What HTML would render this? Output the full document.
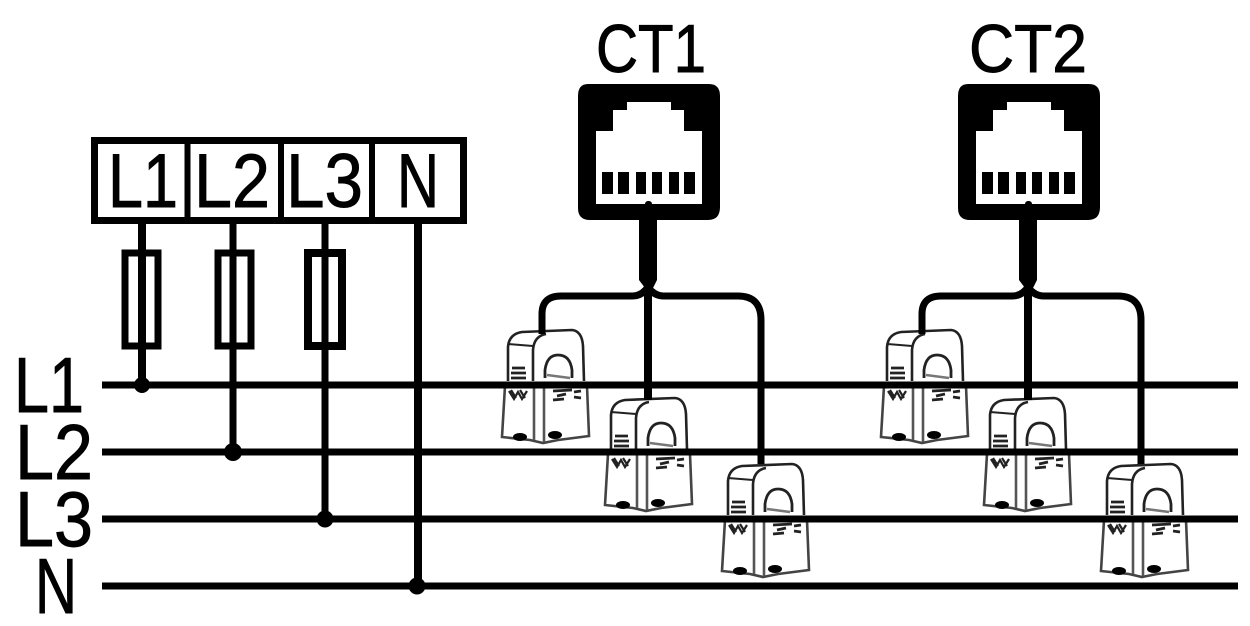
<!DOCTYPE html>
<html>
<head>
<meta charset="utf-8">
<style>
html,body{margin:0;padding:0;background:#fff;width:1250px;height:626px;overflow:hidden}
svg{display:block}
text{font-family:"Liberation Sans",sans-serif;fill:#000;stroke:#000;stroke-width:.9}
</style>
</head>
<body>
<svg width="1250" height="626" viewBox="0 0 1250 626" xmlns="http://www.w3.org/2000/svg">
<defs>
<g id="clamp">
  <path d="M510 382 L509 345 Q509 333 522 332 L572 330 Q582 331 583 345 L584 382 L589 436 L558 440 L543 442 L530 440 L502 436 L505 382 Z" fill="#fff" stroke="none"/>
  <g fill="none" stroke="#222" stroke-width="2.600">
    <path d="M508 381 L508 347 Q509 334 522 332 L572 330 Q582 331 583 346 L584 381"/>
    <path d="M508 344 L533 346" stroke-width="2"/>
    <path d="M533 381 L533 350 Q534 336 546 334"/>
    <path d="M505 386 L502 437 L530 440 L543 443 L558 440 L589 436 L587 386" stroke="#444"/>
    <path d="M534 386 L534 440 M544 386 L544 442" stroke="#555"/>
    <path d="M545 378 L545 370 Q547 355 558 355 Q570 355 572 370 L572 378" stroke-width="2.800"/>
    <path d="M547 375 L570 378" stroke="#777"/>
    <path d="M512 368 L525 368 M511 373 L526 373 M511 378 L526 378" stroke-width="2.800" stroke="#222"/>
    <path d="M509 391 L514 399 L518 392 L522 399 L527 391 M511 390 L516 398 M520 390 L525 398" stroke-width="2.200"/>
    <path d="M553 391 L572 390 M557 396 L566 394 M553 400 L564 399 M574 392 L581 391 M574 397 L581 398" stroke-width="2.800"/>
  </g>
  <ellipse cx="520" cy="437" rx="7" ry="4" fill="#000"/>
  <ellipse cx="555" cy="435" rx="7" ry="4" fill="#000"/>
</g>
<g id="rj">
  <path d="M588 84 H709 Q720 84 720 96 V207 Q720 220 708 220 H590 Q578 220 578 208 V96 Q578 84 588 84 Z" fill="#000"/>
  <path d="M627 102 H671 V110 H684 V131 H702 V204 H596 V131 H613 V110 H627 Z" fill="#fff"/>
  <g fill="#000">
    <rect x="602" y="172" width="11" height="22"/>
    <rect x="618" y="172" width="11" height="22"/>
    <rect x="636" y="172" width="10" height="22"/>
    <rect x="652" y="172" width="10" height="22"/>
    <rect x="669" y="172" width="10" height="22"/>
    <rect x="684" y="172" width="11" height="22"/>
  </g>
  <path d="M639 218 H657 V280 L653 288 L664 296 H641 L645 288 L639 280 Z" fill="#000"/>
  <rect x="645" y="201" width="7" height="20" rx="3" fill="#000"/>
  <path d="M542 334 V314 Q542 296 561 296 H632 Q642 296 648 287 Q654 296 664 296 H738 Q761 296 761 320 V464" fill="none" stroke="#000" stroke-width="7"/>
  <path d="M648 288 V400" fill="none" stroke="#000" stroke-width="8"/>
</g>
</defs>

<rect width="1250" height="626" fill="#fff"/>

<!-- bus lines -->
<g stroke="#000" stroke-width="7" fill="none">
  <path d="M102 385 H1238"/>
  <path d="M102 452 H1238"/>
  <path d="M102 519 H1238"/>
  <path d="M102 586 H1238"/>
</g>

<!-- CT assemblies -->
<use href="#clamp"/>
<use href="#clamp" transform="translate(103 68)"/>
<use href="#clamp" transform="translate(220 134)"/>
<use href="#clamp" transform="translate(379 0)"/>
<use href="#clamp" transform="translate(482 68)"/>
<use href="#clamp" transform="translate(599 134)"/>
<path d="M500 385 H592 M603 452 H695 M720 519 H812 M879 385 H971 M982 452 H1074 M1099 519 H1191" stroke="#000" stroke-width="7"/>
<use href="#rj"/>
<use href="#rj" transform="translate(380 0)"/>

<!-- vertical drops and fuses -->
<g stroke="#000" fill="none">
  <path d="M142 224 V385" stroke-width="8"/>
  <path d="M233 224 V452" stroke-width="7"/>
  <path d="M325 224 V519" stroke-width="7"/>
  <path d="M418 224 V586" stroke-width="8"/>
  <rect x="125" y="253" width="33" height="93" stroke-width="7"/>
  <rect x="218" y="253" width="33" height="93" stroke-width="7"/>
  <rect x="308" y="253" width="34" height="93" stroke-width="8"/>
</g>
<g fill="#000">
  <circle cx="142" cy="385" r="8"/>
  <circle cx="233" cy="452" r="9"/>
  <circle cx="325" cy="519" r="8.5"/>
  <circle cx="417" cy="586" r="8.5"/>
</g>

<!-- terminal block -->
<g stroke="#000" fill="none">
  <rect x="94.500" y="140.500" width="369" height="80" stroke-width="7"/>
  <path d="M187.500 140 V221 M281 140 V221 M372 140 V221" stroke-width="6"/>
</g>

<text x="108" y="207" font-size="76" textLength="70" lengthAdjust="spacingAndGlyphs">L1</text>
<text x="194" y="207" font-size="76" textLength="76" lengthAdjust="spacingAndGlyphs">L2</text>
<text x="286" y="207" font-size="76" textLength="77" lengthAdjust="spacingAndGlyphs">L3</text>
<text x="397" y="207" font-size="76" textLength="42" lengthAdjust="spacingAndGlyphs">N</text>

<text x="14" y="412" font-size="78" textLength="70" lengthAdjust="spacingAndGlyphs">L1</text>
<text x="15" y="479" font-size="78" textLength="78" lengthAdjust="spacingAndGlyphs">L2</text>
<text x="15" y="546" font-size="78" textLength="78" lengthAdjust="spacingAndGlyphs">L3</text>
<text x="35" y="613" font-size="78" textLength="42" lengthAdjust="spacingAndGlyphs">N</text>

<text x="596" y="72" font-size="68" textLength="110" lengthAdjust="spacingAndGlyphs">CT1</text>
<text x="969" y="72" font-size="68" textLength="118" lengthAdjust="spacingAndGlyphs">CT2</text>
</svg>
</body>
</html>
